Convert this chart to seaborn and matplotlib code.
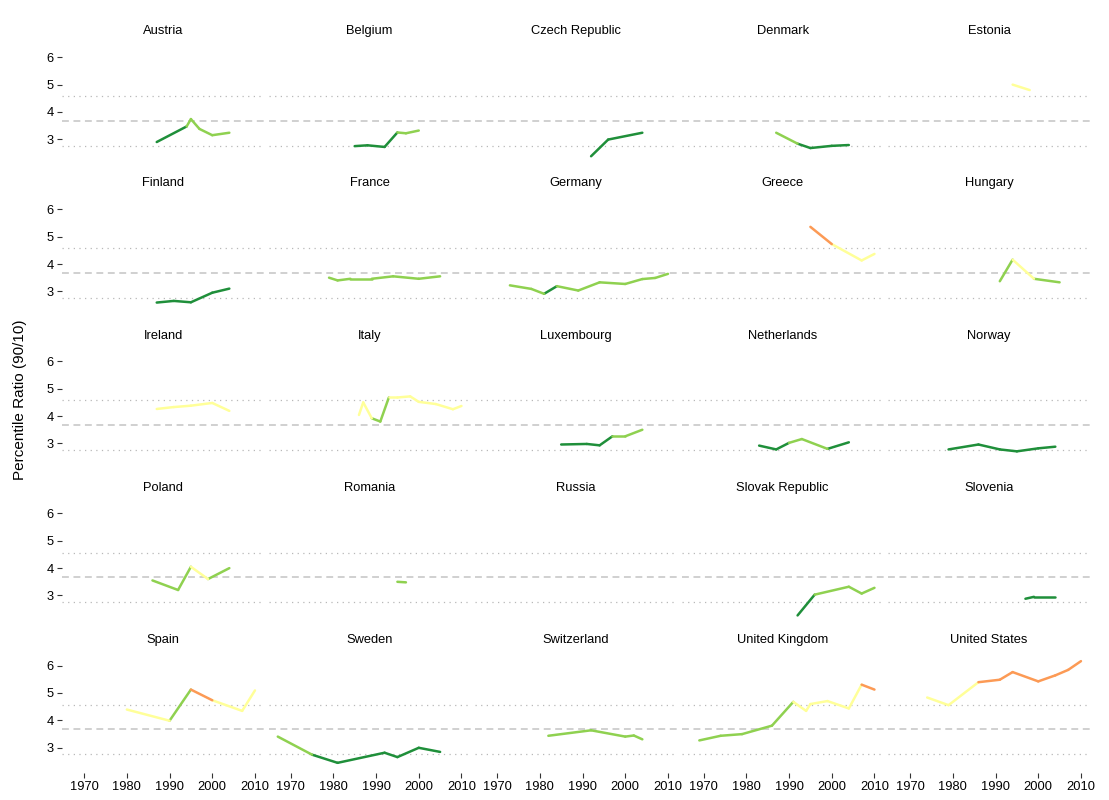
import numpy as np
import pandas as pd
import seaborn as sns
import matplotlib.pyplot as plt

# 90/10 percentile ratio by country
countries = ['Austria', 'Belgium', 'Czech Republic', 'Denmark', 'Estonia',
             'Finland', 'France', 'Germany', 'Greece', 'Hungary',
             'Ireland', 'Italy', 'Luxembourg', 'Netherlands', 'Norway',
             'Poland', 'Romania', 'Russia', 'Slovak Republic', 'Slovenia',
             'Spain', 'Sweden', 'Switzerland', 'United Kingdom', 'United States']

austria_year = [1987, 1994, 1995, 1997, 2000, 2004]
austria_ratio = [2.90, 3.47, 3.74, 3.38, 3.15, 3.24]
belgium_year = [1985, 1988, 1992, 1995, 1997, 2000]
belgium_ratio = [2.75, 2.78, 2.72, 3.25, 3.22, 3.32]
czech_year = [1992, 1996, 2004]
czech_ratio = [2.38, 2.99, 3.24]
denmark_year = [1987, 1992, 1995, 2000, 2004]
denmark_ratio = [3.24, 2.84, 2.68, 2.76, 2.79]
estonia_year = [1994, 1998]
estonia_ratio = [5.0, 4.8]
finland_year = [1987, 1991, 1995, 2000, 2004]
finland_ratio = [2.59, 2.65, 2.60, 2.95, 3.10]
france_year = [1979, 1981, 1984, 1989, 1994, 2000, 2005]
france_ratio = [3.50, 3.40, 3.46, 3.46, 3.55, 3.46, 3.55]
germany_year = [1973, 1978, 1981, 1984, 1989, 1994, 2000, 2004, 2007, 2010]
germany_ratio = [3.22, 3.09, 2.91, 3.19, 3.03, 3.33, 3.27, 3.45, 3.49, 3.64]
greece_year = [1995, 2000, 2007, 2010]
greece_ratio = [5.36, 4.73, 4.13, 4.37]
hungary_year = [1991, 1994, 1999, 2005]
hungary_ratio = [3.37, 4.16, 3.46, 3.33]
ireland_year = [1987, 1991, 1995, 2000, 2004]
ireland_ratio = [4.26, 4.33, 4.38, 4.48, 4.19]
italy_year = [1986, 1987, 1989, 1991, 1993, 1995, 1998, 2000, 2004, 2008, 2010]
italy_ratio = [4.04, 4.50, 3.92, 3.80, 4.68, 4.68, 4.72, 4.52, 4.44, 4.25, 4.37]
luxembourg_year = [1985, 1991, 1994, 1997, 2000, 2004]
luxembourg_ratio = [2.96, 2.98, 2.93, 3.26, 3.26, 3.50]
netherlands_year = [1983, 1987, 1990, 1993, 1999, 2004]
netherlands_ratio = [2.92, 2.78, 3.02, 3.16, 2.80, 3.04]
norway_year = [1979, 1986, 1991, 1995, 2000, 2004]
norway_ratio = [2.78, 2.96, 2.78, 2.71, 2.82, 2.88]
poland_year = [1986, 1992, 1995, 1999, 2004]
poland_ratio = [3.55, 3.20, 4.05, 3.60, 4.00]
romania_year = [1995, 1997]
romania_ratio = [3.50, 3.48]
russia_year = []
russia_ratio = []
slovak_year = [1992, 1996, 2004, 2007, 2010]
slovak_ratio = [2.27, 3.03, 3.32, 3.07, 3.28]
slovenia_year = [1997, 1999, 2004]
slovenia_ratio = [2.88, 2.95, 2.95]
spain_year = [1980, 1990, 1995, 2000, 2007, 2010]
spain_ratio = [4.39, 3.98, 5.12, 4.73, 4.34, 5.09]
sweden_year = [1967, 1975, 1981, 1992, 1995, 2000, 2005]
sweden_ratio = [3.40, 2.74, 2.44, 2.81, 2.65, 2.99, 2.84]
switzerland_year = [1982, 1992, 2000, 2002, 2004]
switzerland_ratio = [3.43, 3.63, 3.40, 3.44, 3.30]
uk_year = [1969, 1974, 1979, 1986, 1991, 1994, 1995, 1999, 2004, 2007, 2010]
uk_ratio = [3.26, 3.43, 3.49, 3.80, 4.67, 4.34, 4.59, 4.70, 4.43, 5.30, 5.12]
us_year = [1974, 1979, 1986, 1991, 1994, 2000, 2004, 2007, 2010]
us_ratio = [4.83, 4.55, 5.39, 5.48, 5.76, 5.42, 5.64, 5.84, 6.16]

series_year = [austria_year, belgium_year, czech_year, denmark_year, estonia_year,
               finland_year, france_year, germany_year, greece_year, hungary_year,
               ireland_year, italy_year, luxembourg_year, netherlands_year, norway_year,
               poland_year, romania_year, russia_year, slovak_year, slovenia_year,
               spain_year, sweden_year, switzerland_year, uk_year, us_year]
series_ratio = [austria_ratio, belgium_ratio, czech_ratio, denmark_ratio, estonia_ratio,
                finland_ratio, france_ratio, germany_ratio, greece_ratio, hungary_ratio,
                ireland_ratio, italy_ratio, luxembourg_ratio, netherlands_ratio, norway_ratio,
                poland_ratio, romania_ratio, russia_ratio, slovak_ratio, slovenia_ratio,
                spain_ratio, sweden_ratio, switzerland_ratio, uk_ratio, us_ratio]

# reference levels drawn in every panel
ref_dotted = [2.75, 4.57]
ref_dashed = 3.68

bin_edges = [-np.inf, 3, 4, 5.05, np.inf]
bin_names = ['lt3', '3-4', '4-5', 'ge5']
palette = {'lt3': '#1f8f3a', '3-4': '#8fd150', '4-5': '#ffff99', 'ge5': '#fc9a55'}

# one row pair per segment, coloured by the value where the segment starts
rows = []
seg = 0
for name, yrs, vals in zip(countries, series_year, series_ratio):
    for i in range(len(yrs) - 1):
        b = pd.cut([vals[i]], bin_edges, labels=bin_names, right=False)[0]
        rows.append((name, seg, b, yrs[i], vals[i]))
        rows.append((name, seg, b, yrs[i + 1], vals[i + 1]))
        seg += 1
df = pd.DataFrame(rows, columns=['country', 'seg', 'bin', 'year', 'ratio'])
df['bin'] = df['bin'].astype(str)

all_years = [y for s in series_year for y in s]
all_vals = [v for s in series_ratio for v in s]
xpad = 0.05 * (max(all_years) - min(all_years))
ypad = 0.05 * (max(all_vals) - min(all_vals))

sns.set_style('white')
plt.rcParams['font.family'] = ['Liberation Sans', 'DejaVu Sans']
plt.rcParams['text.color'] = 'black'
plt.rcParams['xtick.color'] = 'black'
plt.rcParams['ytick.color'] = 'black'

fig, axes = plt.subplots(5, 5, figsize=(11.09, 8), sharex=True, sharey=True)
for k, (ax, name) in enumerate(zip(axes.flat, countries)):
    r, c = divmod(k, 5)
    for lv in ref_dotted:
        ax.axhline(lv, color='#b8b8b8', lw=0.9, ls=(0, (1, 3.5)), zorder=1)
    ax.axhline(ref_dashed, color='#c4c4c4', lw=1.1, ls=(0, (4.5, 3)), zorder=1)
    sub = df[df['country'] == name]
    if len(sub):
        sns.lineplot(data=sub, x='year', y='ratio', hue='bin', units='seg',
                     estimator=None, palette=palette, hue_order=bin_names,
                     legend=False, linewidth=1.8, ax=ax, zorder=3)
    ax.set_title(name, fontsize=9.3, pad=9.5, color='black')
    ax.set_xlabel('')
    ax.set_ylabel('')
    sns.despine(ax=ax, left=True, bottom=True)
    ax.tick_params(axis='both', labelsize=9.3, length=3.5, width=0.8,
                   color='#333333', labelcolor='black', pad=2.5,
                   left=(c == 0), bottom=(r == 4))

axes[0, 0].set_xlim(min(all_years) - xpad, max(all_years) + xpad)
axes[0, 0].set_ylim(min(all_vals) - ypad, max(all_vals) + ypad)
axes[0, 0].set_xticks([1970, 1980, 1990, 2000, 2010])
axes[0, 0].set_yticks([3, 4, 5, 6])

fig.subplots_adjust(left=0.056, right=0.983, top=0.9405, bottom=0.034,
                    wspace=0.022, hspace=0.30)
fig.text(0.018, 0.5, 'Percentile Ratio (90/10)', rotation=90, va='center',
         ha='center', fontsize=11, color='black')

fig.savefig('out.png', dpi=100)
